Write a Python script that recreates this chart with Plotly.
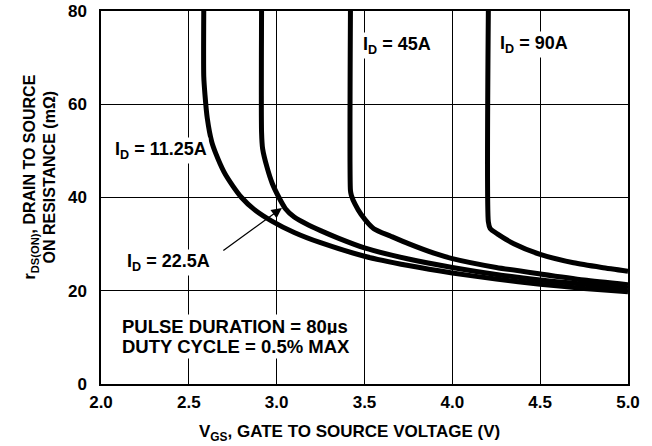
import plotly.graph_objects as go

# --- data ---
vgs_11 = [2.585, 2.585, 2.592, 2.605, 2.63, 2.655, 2.70, 2.75, 2.80, 2.87, 2.97, 3.10, 3.25, 3.50, 3.75, 4.00, 4.25, 4.50, 4.75, 5.00]
r_11   = [80.0, 66.0, 62.0, 57.0, 52.0, 49.3, 45.5, 42.5, 40.0, 37.5, 35.0, 32.5, 30.3, 27.4, 25.4, 23.8, 22.5, 21.4, 20.5, 19.8]

vgs_22 = [2.914, 2.914, 2.92, 2.945, 2.975, 3.013, 3.05, 3.10, 3.17, 3.25, 3.35, 3.50, 3.75, 4.00, 4.25, 4.50, 4.75, 5.00]
r_22   = [80.0, 54.0, 50.5, 46.5, 43.0, 40.0, 37.6, 35.8, 34.3, 32.9, 31.3, 29.2, 26.8, 25.0, 23.5, 22.3, 21.4, 20.6]

vgs_45 = [3.42, 3.42, 3.425, 3.447, 3.48, 3.553, 3.65, 3.75, 3.90, 4.00, 4.25, 4.50, 4.75, 5.00]
r_45   = [80.0, 41.5, 40.5, 38.5, 36.4, 33.3, 31.7, 30.1, 28.0, 26.9, 25.0, 23.6, 22.3, 21.3]

vgs_90 = [4.205, 4.205, 4.215, 4.256, 4.35, 4.50, 4.69, 4.85, 5.00]
r_90   = [80.0, 34.8, 33.4, 32.2, 30.1, 27.8, 26.0, 25.0, 24.2]

x_ticks = [2.0, 2.5, 3.0, 3.5, 4.0, 4.5, 5.0]
x_tick_labels = ["2.0", "2.5", "3.0", "3.5", "4.0", "4.5", "5.0"]
y_ticks = [0, 20, 40, 60, 80]
y_tick_labels = ["0", "20", "40", "60", "80"]

FONT = "Liberation Sans, Arial, Helvetica, sans-serif"

fig = go.Figure()
for xs, ys in [(vgs_11, r_11), (vgs_22, r_22), (vgs_45, r_45), (vgs_90, r_90)]:
    fig.add_trace(go.Scatter(x=xs, y=ys, mode="lines",
                             line=dict(color="black", width=5, shape="spline", smoothing=0.6),
                             showlegend=False, hoverinfo="skip"))

def lab(text, x, y, xanchor="left", size=18):
    fig.add_annotation(x=x, y=y, xref="x", yref="y", text=f"<b>{text}</b>",
                       showarrow=False, xanchor=xanchor, yanchor="middle",
                       font=dict(family=FONT, size=size, color="black"),
                       bgcolor="white", borderpad=1)

lab("I<sub>D</sub> = 11.25A", 2.068, 50.0)
lab("I<sub>D</sub> = 45A", 3.481, 72.5)
lab("I<sub>D</sub> = 90A", 4.259, 72.9)
lab("I<sub>D</sub> = 22.5A", 2.137, 26.0)
lab("PULSE DURATION = 80µs", 2.108, 12.3, size=18.5)
lab("DUTY CYCLE = 0.5% MAX", 2.108, 8.0, size=18.5)

# arrow to the 22.5A curve
fig.add_annotation(x=3.03, y=37.75, xref="x", yref="y", ax=2.688, ay=28.4,
                   axref="x", ayref="y", text="", showarrow=True,
                   arrowhead=2, arrowsize=1.6, arrowwidth=1.3, arrowcolor="black")

# axis titles
fig.add_annotation(x=0.472, y=-0.1316, xref="paper", yref="paper",
                   text="<b>V<sub>GS</sub>, GATE TO SOURCE VOLTAGE (V)</b>", showarrow=False,
                   xanchor="center", yanchor="middle",
                   font=dict(family=FONT, size=17, color="black"))
fig.add_annotation(x=-0.133, y=0.556, xref="paper", yref="paper",
                   text="<b>r<sub>DS(ON)</sub>, DRAIN TO SOURCE</b>", showarrow=False,
                   textangle=-90, xanchor="center", yanchor="middle",
                   font=dict(family=FONT, size=16, color="black"))
fig.add_annotation(x=-0.097, y=0.556, xref="paper", yref="paper",
                   text="<b>ON RESISTANCE (mΩ)</b>", showarrow=False,
                   textangle=-90, xanchor="center", yanchor="middle",
                   font=dict(family=FONT, size=16, color="black"))

fig.update_xaxes(range=[2.0, 5.0], tickvals=x_ticks, ticktext=x_tick_labels,
                 showgrid=True, gridcolor="black", gridwidth=1,
                 showline=True, linecolor="black", linewidth=1.5, mirror=True,
                 ticks="", zeroline=False, ticklabelstandoff=2, automargin=False,
                 tickfont=dict(family=FONT, size=17, color="black", weight="bold"))
fig.update_yaxes(range=[0, 80], tickvals=y_ticks, ticktext=y_tick_labels,
                 showgrid=True, gridcolor="black", gridwidth=1,
                 showline=True, linecolor="black", linewidth=1.5, mirror=True,
                 ticks="", zeroline=False, ticklabelstandoff=9, automargin=False,
                 tickfont=dict(family=FONT, size=17, color="black", weight="bold"))

fig.update_layout(width=652, height=446,
                  margin=dict(l=101, r=24, t=11, b=62),
                  paper_bgcolor="white", plot_bgcolor="white",
                  font=dict(family=FONT, color="black"))

post = ("document.body.style.margin='0px';document.body.style.padding='0px';"
        "var gd=document.getElementById('{plot_id}');"
        "gd.style.position='absolute';gd.style.left='0px';gd.style.top='0px';")

fig.write_html("out.html", post_script=post, config={"displayModeBar": False})
